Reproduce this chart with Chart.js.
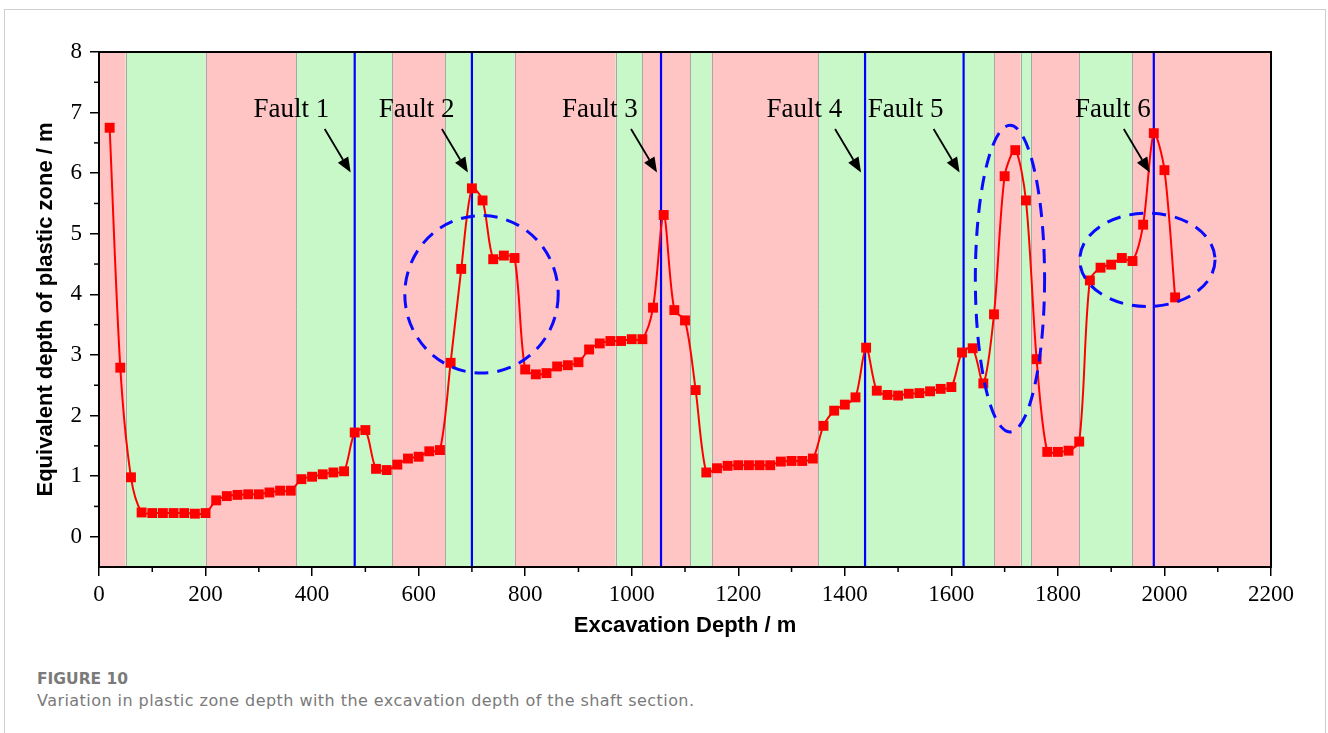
<!DOCTYPE html>
<html>
<head>
<meta charset="utf-8">
<script src="https://cdn.jsdelivr.net/npm/chart.js@4.4.1/dist/chart.umd.min.js"></script>
<style>
  html, body { margin: 0; padding: 0; background: #fff; }
  body { width: 1328px; height: 733px; position: relative; overflow: hidden; }
  #frame { position: absolute; left: 4px; top: 9px; width: 1322px; height: 740px; border: 1px solid #cfcfcf; box-sizing: border-box; }
  #wrap { position: absolute; left: 0; top: 0; width: 1328px; height: 650px; }
  .cap { position: absolute; left: 37px; font-family: "DejaVu Sans", sans-serif; color: #7a7a7a; white-space: nowrap; }
  #capTitle { top: 670px; font-size: 15.5px; font-weight: 700; }
  #capText { top: 691px; font-size: 16px; letter-spacing: 0.45px; }
</style>
</head>
<body>
<div id="frame"></div>
<div id="wrap"><canvas id="plasticChart" width="1328" height="650"></canvas></div>
<div class="cap" id="capTitle">FIGURE 10</div>
<div class="cap" id="capText">Variation in plastic zone depth with the excavation depth of the shaft section.</div>

<script>
// excavation depth (m) of each computed section
const depth = [
  20, 40, 60, 80, 100, 120, 140, 160, 180, 200,
  220, 240, 260, 280, 300, 320, 340, 360, 380, 400,
  420, 440, 460, 480, 500, 520, 540, 560, 580, 600,
  620, 640, 660, 680, 700, 720, 740, 760, 780, 800,
  820, 840, 860, 880, 900, 920, 940, 960, 980, 1000,
  1020, 1040, 1060, 1080, 1100, 1120, 1140, 1160, 1180, 1200,
  1220, 1240, 1260, 1280, 1300, 1320, 1340, 1360, 1380, 1400,
  1420, 1440, 1460, 1480, 1500, 1520, 1540, 1560, 1580, 1600,
  1620, 1640, 1660, 1680, 1700, 1720, 1740, 1760, 1780, 1800,
  1820, 1840, 1860, 1880, 1900, 1920, 1940, 1960, 1980, 2000,
  2020
];

// equivalent plastic zone depth (m)
const plasticDepth = [
  6.75, 2.79, 0.98, 0.40, 0.39, 0.39, 0.39, 0.39, 0.38, 0.39,
  0.60, 0.67, 0.69, 0.70, 0.70, 0.73, 0.76, 0.76, 0.95, 0.99,
  1.03, 1.06, 1.08, 1.72, 1.76, 1.12, 1.10, 1.19, 1.29, 1.32,
  1.41, 1.43, 2.87, 4.42, 5.75, 5.55, 4.58, 4.64, 4.60, 2.76,
  2.68, 2.70, 2.81, 2.83, 2.88, 3.09, 3.19, 3.23, 3.23, 3.26,
  3.26, 3.78, 5.31, 3.74, 3.57, 2.42, 1.06, 1.13, 1.17, 1.18,
  1.18, 1.18, 1.18, 1.24, 1.25, 1.25, 1.29, 1.83, 2.08, 2.18,
  2.30, 3.12, 2.41, 2.34, 2.33, 2.36, 2.37, 2.40, 2.44, 2.47,
  3.04, 3.11, 2.53, 3.67, 5.95, 6.38, 5.55, 2.93, 1.40, 1.40,
  1.42, 1.57, 4.23, 4.44, 4.49, 4.60, 4.55, 5.15, 6.66, 6.05,
  3.95
];

const xTicks = [0, 200, 400, 600, 800, 1000, 1200, 1400, 1600, 1800, 2000, 2200];
const xMinorTicks = [100, 300, 500, 700, 900, 1100, 1300, 1500, 1700, 1900, 2100];
const yTicks = [0, 1, 2, 3, 4, 5, 6, 7, 8];
const yMinorTicks = [0.5, 1.5, 2.5, 3.5, 4.5, 5.5, 6.5, 7.5];

// strata boundaries (m) and the rock class of each interval
const bandEdges = [0, 50, 200, 370, 550, 650, 780, 970, 1020, 1110, 1150, 1350, 1680, 1730, 1750, 1840, 1940, 2200];
const bandClass = ['soft', 'hard', 'soft', 'hard', 'soft', 'hard', 'soft', 'hard', 'soft', 'hard', 'soft', 'hard', 'soft', 'hard', 'soft', 'hard', 'soft'];

// fault positions (m)
const faultDepth = [480, 700, 1055, 1438, 1623, 1980];
const faultNames = ['Fault 1', 'Fault 2', 'Fault 3', 'Fault 4', 'Fault 5', 'Fault 6'];
const faultLabelX = [361, 596, 940, 1324, 1514, 1903];

// dashed ellipses marking the disturbed zones: centre (m, m) and half axes
const zoneCx = [718, 1710, 1968];
const zoneCy = [4.0, 4.26, 4.57];
const zoneRx = [144, 65, 127];
const zoneRy = [1.3, 2.53, 0.77];

const bandFill = { soft: '#ffc5c5', hard: '#c8f8c8' };

function drawArrow(ctx, x0, y0, x1, y1) {
  const ang = Math.atan2(y1 - y0, x1 - x0);
  const head = 15, half = 6;
  const bx = x1 - head * Math.cos(ang), by = y1 - head * Math.sin(ang);
  ctx.beginPath();
  ctx.moveTo(x0, y0);
  ctx.lineTo(bx, by);
  ctx.stroke();
  ctx.beginPath();
  ctx.moveTo(x1, y1);
  ctx.lineTo(bx + half * Math.sin(ang), by - half * Math.cos(ang));
  ctx.lineTo(bx - half * Math.sin(ang), by + half * Math.cos(ang));
  ctx.closePath();
  ctx.fill();
}

const overlay = {
  id: 'overlay',
  beforeDatasetsDraw(chart) {
    const { ctx, chartArea: a, scales: { x, y } } = chart;
    ctx.save();
    // strata bands
    for (let i = 0; i < bandClass.length; i++) {
      const x0 = x.getPixelForValue(bandEdges[i]);
      const x1 = x.getPixelForValue(bandEdges[i + 1]);
      ctx.fillStyle = bandFill[bandClass[i]];
      ctx.fillRect(x0, a.top, x1 - x0, a.bottom - a.top);
    }
    ctx.strokeStyle = '#a8a8a8';
    ctx.lineWidth = 1;
    for (let i = 1; i < bandEdges.length - 1; i++) {
      const px = Math.round(x.getPixelForValue(bandEdges[i])) + 0.5;
      ctx.beginPath();
      ctx.moveTo(px, a.top);
      ctx.lineTo(px, a.bottom);
      ctx.stroke();
    }
    // fault lines
    ctx.strokeStyle = '#0000ff';
    ctx.lineWidth = 2.2;
    faultDepth.forEach(d => {
      const px = x.getPixelForValue(d);
      ctx.beginPath();
      ctx.moveTo(px, a.top);
      ctx.lineTo(px, a.bottom);
      ctx.stroke();
    });
    ctx.restore();
  },
  afterDatasetsDraw(chart) {
    const { ctx, chartArea: a, scales: { x, y } } = chart;
    ctx.save();
    // dashed ellipses
    ctx.strokeStyle = '#0a0aff';
    ctx.lineWidth = 3;
    ctx.setLineDash([14, 9]);
    for (let i = 0; i < zoneCx.length; i++) {
      const cx = x.getPixelForValue(zoneCx[i]);
      const cy = y.getPixelForValue(zoneCy[i]);
      const rx = x.getPixelForValue(zoneCx[i] + zoneRx[i]) - cx;
      const ry = cy - y.getPixelForValue(zoneCy[i] + zoneRy[i]);
      ctx.beginPath();
      ctx.ellipse(cx, cy, rx, ry, 0, 0, Math.PI * 2);
      ctx.stroke();
    }
    ctx.setLineDash([]);

    // fault labels with arrows
    ctx.fillStyle = '#000';
    ctx.strokeStyle = '#000';
    ctx.lineWidth = 1.8;
    ctx.font = '27px "Liberation Serif", "Times New Roman", serif';
    ctx.textAlign = 'center';
    ctx.textBaseline = 'alphabetic';
    faultDepth.forEach((d, i) => {
      const fx = x.getPixelForValue(d);
      ctx.fillText(faultNames[i], x.getPixelForValue(faultLabelX[i]), y.getPixelForValue(6.92));
      drawArrow(ctx, fx - 30, y.getPixelForValue(6.73), fx - 4, y.getPixelForValue(6.01));
    });

    // minor ticks
    ctx.lineWidth = 1.5;
    xMinorTicks.forEach(v => {
      const px = x.getPixelForValue(v);
      ctx.beginPath();
      ctx.moveTo(px, a.bottom);
      ctx.lineTo(px, a.bottom + 5);
      ctx.stroke();
    });
    yMinorTicks.forEach(v => {
      const py = y.getPixelForValue(v);
      ctx.beginPath();
      ctx.moveTo(a.left, py);
      ctx.lineTo(a.left - 5, py);
      ctx.stroke();
    });

    // plot frame
    ctx.lineWidth = 2;
    ctx.strokeRect(a.left, a.top, a.right - a.left, a.bottom - a.top);
    ctx.restore();
  }
};

const serif = '"Liberation Serif", "Times New Roman", serif';
const sans = '"Liberation Sans", Arial, sans-serif';

new Chart(document.getElementById('plasticChart'), {
  type: 'line',
  data: {
    datasets: [{
      data: depth.map((d, i) => ({ x: d, y: plasticDepth[i] })),
      borderColor: '#ff0000',
      borderWidth: 2,
      backgroundColor: '#ff0000',
      pointStyle: 'rect',
      pointRadius: 7,
      pointBackgroundColor: '#ff0000',
      pointBorderWidth: 0,
      tension: 0.3,
      fill: false
    }]
  },
  options: {
    responsive: false,
    animation: false,
    layout: { padding: { left: 29, right: 57, top: 52, bottom: 7 } },
    plugins: { legend: { display: false }, tooltip: { enabled: false } },
    scales: {
      x: {
        type: 'linear',
        min: 0, max: 2200,
        afterBuildTicks: s => { s.ticks = xTicks.map(v => ({ value: v })); },
        afterFit: s => { s.height = 76; },
        ticks: { font: { family: serif, size: 23 }, color: '#000', padding: 5, maxRotation: 0, autoSkip: false, callback: v => String(v) },
        grid: { drawOnChartArea: false, tickLength: 9, color: '#000', lineWidth: 1.5 },
        border: { color: '#000', width: 2 },
        title: { display: true, text: 'Excavation Depth / m', color: '#000', font: { family: sans, size: 22, weight: 'bold' }, padding: { top: 4, bottom: 4 } }
      },
      y: {
        min: -0.5, max: 8,
        afterBuildTicks: s => { s.ticks = yTicks.map(v => ({ value: v })); },
        afterFit: s => { s.width = 70; },
        ticks: { font: { family: serif, size: 23 }, color: '#000', padding: 8, callback: v => String(v) },
        grid: { drawOnChartArea: false, tickLength: 9, color: '#000', lineWidth: 1.5 },
        border: { color: '#000', width: 2 },
        title: { display: true, text: 'Equivalent depth of plastic zone / m', color: '#000', font: { family: sans, size: 22, weight: 'bold' }, padding: { top: 4, bottom: 4 } }
      }
    }
  },
  plugins: [overlay]
});
</script>
</body>
</html>
